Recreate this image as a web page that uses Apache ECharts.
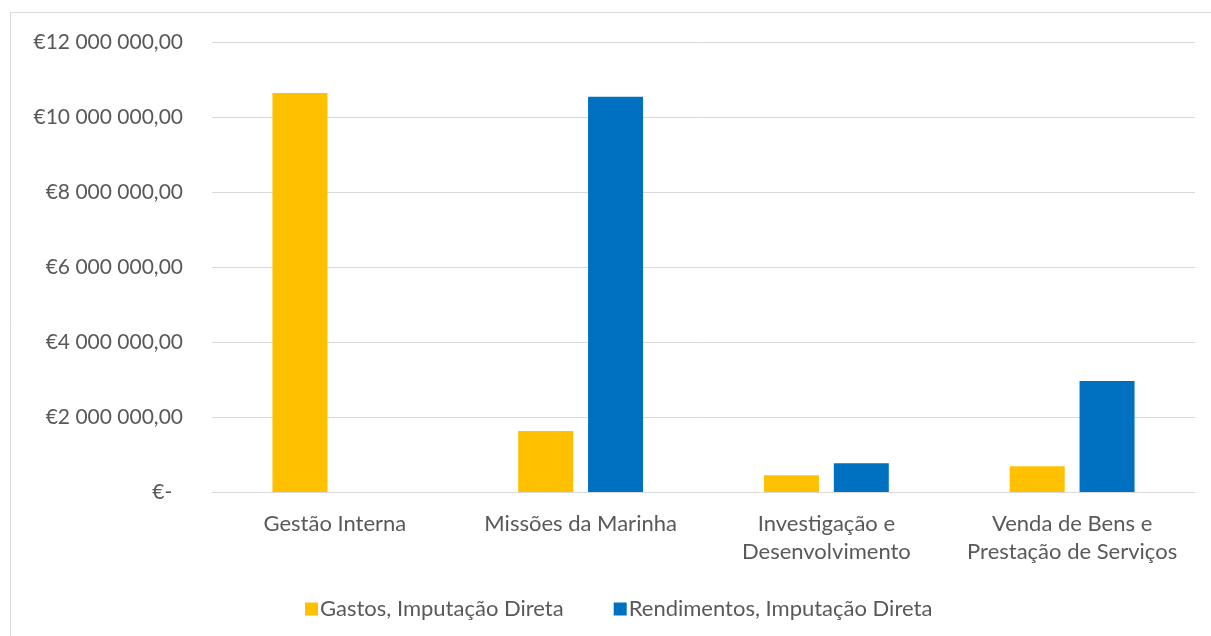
<!DOCTYPE html>
<html><head><meta charset="utf-8">
<script src="https://cdn.jsdelivr.net/npm/echarts@6/dist/echarts.min.js"></script>
<style>html,body{margin:0;padding:0;background:#fff}#c{width:1211px;height:636px}</style>
</head><body><div id="c"></div>
<script>
const categories = ['Gestão Interna', 'Missões da Marinha', 'Investigação e\nDesenvolvimento', 'Venda de Bens e\nPrestação de Serviços'];
const gastos = [10640000, 1630000, 445000, 685000];
const rendimentos = [0, 10540000, 770000, 2960000];
const seriesNames = ['Gastos, Imputação Direta', 'Rendimentos, Imputação Direta'];
const yTicks = [0, 2000000, 4000000, 6000000, 8000000, 10000000, 12000000];

const FONT = 'Lato';
const TXT = '#595959';
function fmt(v) {
  if (v === 0) return '€-  ';
  const s = Math.round(v).toString().replace(/\B(?=(\d{3})+(?!\d))/g, ' ');
  return '€' + s + ',00';
}
const chart = echarts.init(document.getElementById('c'));
chart.setOption({
  animation: false,
  textStyle: { fontFamily: FONT },
  graphic: [{ type: 'rect', shape: { x: 10.5, y: 12.5, width: 1260, height: 700 }, style: { fill: 'none', stroke: '#d9d9d9', lineWidth: 1 }, silent: true }],
  grid: { left: 212, right: 16, top: 42, bottom: 144 },
  legend: {
    left: 300, top: 593, itemWidth: 13, itemHeight: 13, itemGap: 50,
    icon: 'rect',
    textStyle: { color: TXT, fontSize: 22, fontFamily: FONT, padding: [0, 0, 0, -3] },
    data: seriesNames
  },
  xAxis: {
    type: 'category', data: categories,
    axisLine: { lineStyle: { color: '#d9d9d9', width: 1 } },
    axisTick: { show: false },
    axisLabel: { color: TXT, fontSize: 22, fontFamily: FONT, margin: 18, lineHeight: 28, interval: 0 }
  },
  yAxis: {
    type: 'value', min: 0, max: 12000000, interval: 2000000,
    axisLine: { show: false }, axisTick: { show: false },
    splitLine: { lineStyle: { color: '#d9d9d9', width: 1 } },
    axisLabel: { color: TXT, fontSize: 21, fontFamily: FONT, margin: 29, formatter: fmt }
  },
  series: [
    { name: seriesNames[0], type: 'bar', data: gastos, barWidth: 55, barGap: '27%', itemStyle: { color: '#FFC000' } },
    { name: seriesNames[1], type: 'bar', data: rendimentos, barWidth: 55, barGap: '27%', itemStyle: { color: '#0070C0' } }
  ]
});
</script></body></html>
